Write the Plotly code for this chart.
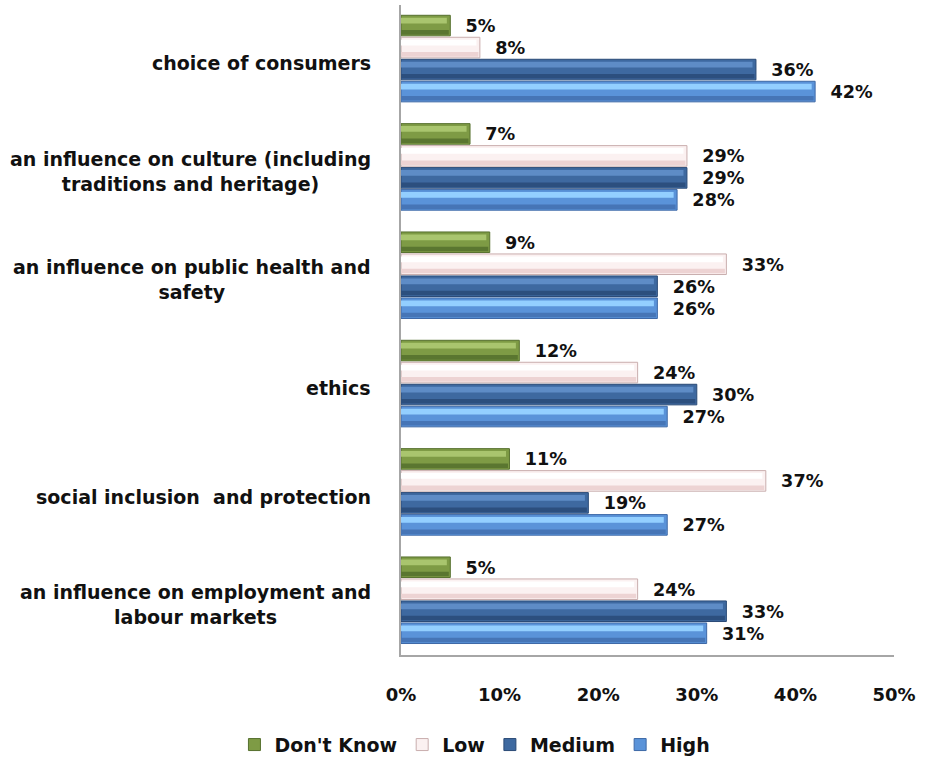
import plotly.graph_objects as go

# Survey results: perceived level of impact by area
categories = [
    "choice of consumers",
    "an influence on culture (including<br>traditions and heritage)",
    "an influence on public health and<br>safety",
    "ethics",
    "social inclusion  and protection",
    "an influence on employment and<br>labour markets",
]
dont_know = [5, 7, 9, 12, 11, 5]
low = [8, 29, 33, 24, 37, 24]
medium = [36, 29, 26, 30, 19, 33]
high = [42, 28, 26, 27, 27, 31]

tick_vals = [0, 10, 20, 30, 40, 50]
tick_text = ["0%", "10%", "20%", "30%", "40%", "50%"]

series = [
    ("Don't Know", dont_know, dict(body="#7E9B45", top="#A9C56E", bottom="#5A7630", line="#56702E")),
    ("Low", low, dict(body="#FBF1F1", top="#FFFFFF", bottom="#EDD3D3", line="#C9AEAE")),
    ("Medium", medium, dict(body="#3E69A0", top="#5E8CC6", bottom="#2C4F7E", line="#2A4A76")),
    ("High", high, dict(body="#5A93D9", top="#93CFFF", bottom="#4675B6", line="#3D68A6")),
]

FONT = "DejaVu Sans"
INK = "#111111"
slot = 0.203      # category-axis space taken by one bar slot
bar_w = 0.19      # bar thickness within its slot
start = -0.405    # offset of the first slot from the category centre

fig = go.Figure()
for i, (name, vals, c) in enumerate(series):
    off = start + i * slot
    # main bar with value label
    fig.add_trace(go.Bar(
        y=categories, x=vals, orientation="h", name=name,
        offset=off, width=bar_w,
        marker=dict(color=c["body"], line=dict(color=c["line"], width=1)),
        text=[f"\u00a0\u00a0{v}%" for v in vals], textposition="outside",
        textfont=dict(family=FONT, size=18, color=INK, weight="bold"),
        cliponaxis=False,
    ))
    # bevel highlight along the upper edge
    fig.add_trace(go.Bar(
        y=categories, x=[v - 0.35 for v in vals], orientation="h",
        offset=off + bar_w * 0.12, width=bar_w * 0.28,
        marker=dict(color=c["top"], line=dict(width=0)),
        showlegend=False, hoverinfo="skip",
    ))
    # shading along the lower edge
    fig.add_trace(go.Bar(
        y=categories, x=[v - 0.15 for v in vals], orientation="h",
        offset=off + bar_w * 0.72, width=bar_w * 0.22,
        marker=dict(color=c["bottom"], line=dict(width=0)),
        showlegend=False, hoverinfo="skip",
    ))

# Category labels: right-aligned block, lines centred
for cat in categories:
    fig.add_annotation(
        x=-0.057, xref="paper", y=cat, yref="y",
        text=cat, showarrow=False, xanchor="right", yanchor="middle",
        yshift=-4, align="center",
        font=dict(family=FONT, size=19, color=INK, weight="bold"),
    )

fig.update_layout(
    width=927, height=760,
    margin=dict(l=401, r=33, t=5, b=105, autoexpand=False),
    barmode="overlay",
    plot_bgcolor="white", paper_bgcolor="white",
    font=dict(family=FONT, size=18, color=INK, weight="bold"),
    xaxis=dict(
        range=[0, 50], tickvals=tick_vals, ticktext=tick_text,
        showgrid=False, zeroline=False, showline=True, linecolor="#A6A6A6",
        linewidth=2, ticks="", ticklabelstandoff=22,
        tickfont=dict(family=FONT, size=18, color=INK, weight="bold"),
    ),
    yaxis=dict(
        autorange="reversed", showticklabels=False, showgrid=False,
        showline=True, linecolor="#A6A6A6", linewidth=2, ticks="",
    ),
    legend=dict(
        orientation="h", x=0.15, xanchor="center", y=-0.138, yanchor="middle",
        font=dict(family=FONT, size=19, color=INK, weight="bold"),
        itemwidth=30, traceorder="normal", bgcolor="rgba(0,0,0,0)",
    ),
    showlegend=True,
)

fig.write_html("out.html")
